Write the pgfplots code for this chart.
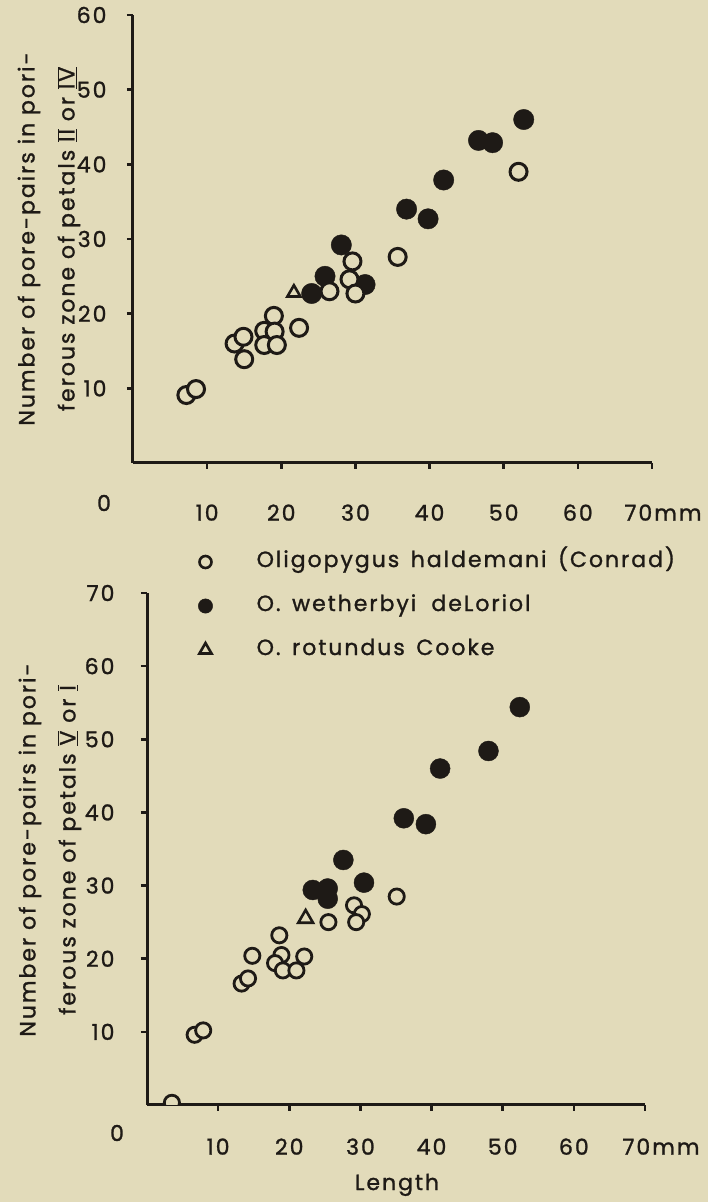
\documentclass[border=0pt]{standalone}
\usepackage{fontspec}
\setmainfont{Poppins}[LetterSpace=9, FakeBold=1.2]
\usepackage{pgfplots}
\pgfplotsset{compat=1.18}
\definecolor{bg}{RGB}{226,219,186}
\definecolor{ink}{RGB}{30,26,22}
\newcommand{\rn}[1]{$\underline{\overline{\mbox{#1}}}$}
\pgfplotstableread{
x y
7.2 9.1
8.5 9.9
13.7 16.0
14.9 16.9
15.0 13.9
17.7 17.7
17.7 15.8
19.0 19.7
19.1 17.6
19.4 15.8
22.4 18.1
26.5 23.0
29.6 27.0
29.2 24.6
30.0 22.7
35.7 27.6
52.0 39.0
}\topopen
\pgfplotstableread{
x y
24.1 22.7
25.9 25.0
28.1 29.2
31.3 23.9
36.9 34.0
39.8 32.7
41.9 37.9
46.6 43.2
48.5 42.9
52.7 46.0
}\topfilled
\pgfplotstableread{
x y
21.7 22.8
}\toptri
\pgfplotstableread{
x y
3.5 0.3
6.7 9.6
7.9 10.2
13.3 16.6
14.2 17.3
14.8 20.4
18.6 23.2
18.9 20.5
18.0 19.4
19.1 18.4
21.0 18.4
22.1 20.3
25.5 25.0
29.1 27.3
30.2 26.1
29.4 25.0
35.1 28.5
}\botopen
\pgfplotstableread{
x y
23.3 29.4
25.4 29.6
25.4 28.2
27.6 33.5
30.5 30.4
36.1 39.2
39.2 38.4
41.2 46.0
48.0 48.4
52.4 54.4
}\botfilled
\pgfplotstableread{
x y
22.3 25.5
}\bottri
\begin{document}
\begin{tikzpicture}[x=1pt,y=1pt]
\fill[bg] (0,0) rectangle (708,1202);
\pgfplotsset{every axis/.append style={
  scale only axis,
  font=\fontsize{22}{26}\selectfont,
  axis x line=bottom, axis y line=left,
  axis line style={-, line width=3pt, ink},
  tick style={line width=2.6pt, ink},
  tick align=outside, major tick length=6pt,
  minor tick num=0,
  xtick={10,20,...,70},
  xmin=0, xmax=70, ymin=0,
  ylabel style={align=center, anchor=center, text=ink, font=\fontsize{22}{40}\selectfont},
}}
% ---------- top panel ----------
\begin{axis}[
  at={(133pt,739pt)}, anchor=south west,
  width=519pt, height=448pt,
  ymax=60,
  ytick={10,20,...,60}, yticklabels={10,20,30,40,50,60},
  yticklabel style={anchor=east, xshift=-17pt, text=ink},
  xticklabels={10,20,30,40,50,60,\hspace*{22pt}70mm},
  xticklabel style={anchor=north, yshift=-32pt, text=ink},
  ylabel={Number of pore-pairs in pori-\\ferous zone of petals \rn{II} or \rn{IV}},
  ylabel style={at={(axis description cs:-0.162,0.50)}},
  clip=false,
]
\addplot[only marks, mark=*, mark size=10.2pt, ink, mark options={draw=ink, fill=ink}] table {\topfilled};
\addplot[only marks, mark=*, mark size=8.5pt, mark options={draw=ink, fill=bg, line width=3pt}] table {\topopen};
\addplot[only marks, mark=triangle*, mark size=7.5pt, mark options={draw=ink, fill=bg, line width=2.6pt}] table {\toptri};
\end{axis}
% ---------- bottom panel ----------
\begin{axis}[
  at={(147pt,97pt)}, anchor=south west,
  width=498pt, height=512pt,
  ymax=70,
  ytick={10,20,...,70}, yticklabels={10,20,30,40,50,60,70},
  yticklabel style={anchor=east, xshift=-23pt, text=ink},
  xticklabels={10,20,30,40,50,60,\hspace*{32pt}70mm},
  xticklabel style={anchor=north, yshift=-24pt, text=ink},
  ylabel={Number of pore-pairs in pori-\\ferous zone of petals \rn{V} or \rn{I}},
  ylabel style={at={(axis description cs:-0.195,0.498)}},
  xlabel={Length},
  xlabel style={at={(axis description cs:0.502,-0.156)}, anchor=center, text=ink},
  clip=true, clip marker paths=true,
  legend style={at={(axis description cs:0.103,1.082)}, anchor=north west,
    draw=none, fill=none, inner sep=0pt, outer sep=0pt,
    row sep=22pt, font=\fontsize{22}{26}\selectfont,
    nodes={text height=16pt, text depth=6pt, inner sep=0pt, text=ink},
    /tikz/every odd column/.append style={column sep=44pt}},
  legend cell align=left,
]
\addlegendimage{only marks, mark=*, mark size=6pt, mark options={draw=ink, fill=bg, line width=2.6pt}}
\addlegendentry{Oligopygus\, haldemani\, (Conrad)}
\addlegendimage{only marks, mark=*, mark size=7.2pt, mark options={draw=ink, fill=ink}}
\addlegendentry{O.\, wetherbyi\,\, deLoriol}
\addlegendimage{only marks, mark=triangle*, mark size=7pt, mark options={draw=ink, fill=bg, line width=2.6pt}}
\addlegendentry{O.\, rotundus\, Cooke}
\addplot[only marks, mark=*, mark size=10pt, forget plot, mark options={draw=ink, fill=ink}] table {\botfilled};
\addplot[only marks, mark=*, mark size=7.6pt, forget plot, mark options={draw=ink, fill=bg, line width=2.8pt}] table {\botopen};
\addplot[only marks, mark=triangle*, mark size=8.5pt, forget plot, mark options={draw=ink, fill=bg, line width=2.6pt}] table {\bottri};
\end{axis}
\node[text=ink, font=\fontsize{22}{26}\selectfont] at (104,699) {0};
\node[text=ink, font=\fontsize{22}{26}\selectfont] at (117,69) {0};
\pgfresetboundingbox
\useasboundingbox (0,0) rectangle (708,1202);
\end{tikzpicture}
\end{document}
